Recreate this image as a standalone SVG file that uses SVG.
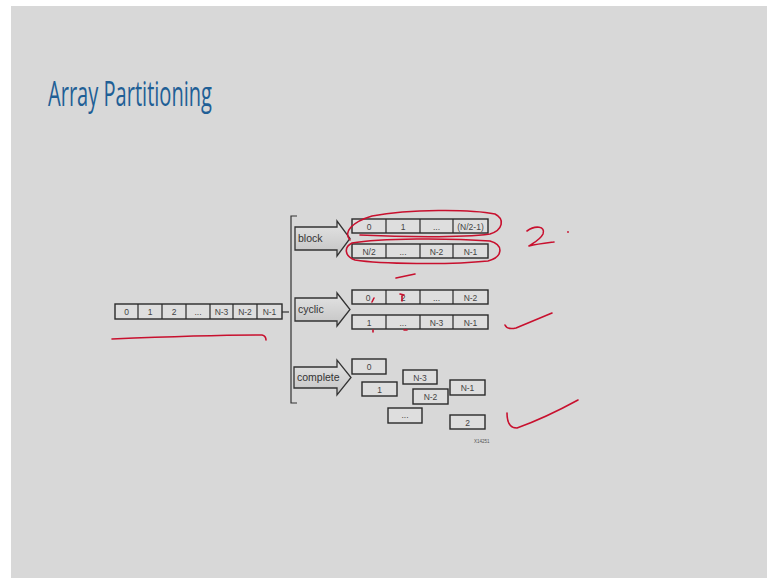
<svg xmlns="http://www.w3.org/2000/svg" width="767" height="578" viewBox="0 0 767 578">
<defs>
<linearGradient id="ag" x1="0" y1="0" x2="0" y2="1">
<stop offset="0" stop-color="#e4e4e4"/>
<stop offset="1" stop-color="#c4c4c4"/>
</linearGradient>
<style>
.cell{fill:#dedede;stroke:#2a2a2a;stroke-width:1.4}
.sep{stroke:#2a2a2a;stroke-width:1.2}
.lbl{font-family:"Liberation Sans",Arial,sans-serif;font-size:8.5px;fill:#444;text-anchor:middle}
.arr{fill:url(#ag);stroke:#333;stroke-width:1.3;stroke-linejoin:miter}
.alb{font-family:"Liberation Sans",Arial,sans-serif;font-size:10.5px;fill:#333}
.red{fill:none;stroke:#c8102e;stroke-width:1.6;stroke-linecap:round;stroke-linejoin:round}
.ln{fill:none;stroke:#333;stroke-width:1.2}
</style>
</defs>
<rect x="0" y="0" width="767" height="578" fill="#ffffff"/>
<rect x="11" y="6" width="756" height="572" fill="#d8d8d8"/>
<text x="48" y="106" font-family="'Open Sans','Liberation Sans',sans-serif" font-size="35" fill="#1f5f96" textLength="164" lengthAdjust="spacingAndGlyphs">Array Partitioning</text>

<g id="source-array">
<rect class="cell" x="115" y="304" width="167" height="15"/>
<path class="sep" d="M138,304V319M162,304V319M186,304V319M210,304V319M233,304V319M257,304V319"/>
<text class="lbl" x="126.5" y="315">0</text>
<text class="lbl" x="150" y="315">1</text>
<text class="lbl" x="174" y="315">2</text>
<text class="lbl" x="198" y="315">...</text>
<text class="lbl" x="221.5" y="315">N-3</text>
<text class="lbl" x="245" y="315">N-2</text>
<text class="lbl" x="269.5" y="315">N-1</text>
</g>

<g id="connectors">
<path class="ln" d="M282,312H289"/>
<path class="ln" d="M297,216H291V403H297"/>
</g>

<g id="block">
<path class="arr" d="M295,227H337V221L350,238.5L337,256V250H295Z"/>
<text class="alb" x="298" y="242">block</text>
<rect class="cell" x="352" y="219" width="136" height="14"/>
<path class="sep" d="M386,219V233M420,219V233M453,219V233"/>
<text class="lbl" x="369" y="229.5">0</text>
<text class="lbl" x="403" y="229.5">1</text>
<text class="lbl" x="436.5" y="229.5">...</text>
<text class="lbl" x="470.5" y="229.5">(N/2-1)</text>
<rect class="cell" x="352" y="244" width="136" height="14"/>
<path class="sep" d="M386,244V258M420,244V258M453,244V258"/>
<text class="lbl" x="369" y="254.5">N/2</text>
<text class="lbl" x="403" y="254.5">...</text>
<text class="lbl" x="436.5" y="254.5">N-2</text>
<text class="lbl" x="470.5" y="254.5">N-1</text>
</g>

<g id="cyclic">
<path class="arr" d="M295,298H337V293L350,309.5L337,326V321H295Z"/>
<text class="alb" x="298" y="313">cyclic</text>
<rect class="cell" x="352" y="290" width="136" height="14"/>
<path class="sep" d="M386,290V304M420,290V304M453,290V304"/>
<text class="lbl" x="368" y="300.5">0</text>
<text class="lbl" x="403" y="300.5">2</text>
<text class="lbl" x="436.5" y="300.5">...</text>
<text class="lbl" x="470.5" y="300.5">N-2</text>
<rect class="cell" x="352" y="315" width="136" height="14"/>
<path class="sep" d="M386,315V329M420,315V329M453,315V329"/>
<text class="lbl" x="369" y="325.5">1</text>
<text class="lbl" x="403" y="325.5">...</text>
<text class="lbl" x="436.5" y="325.5">N-3</text>
<text class="lbl" x="470.5" y="325.5">N-1</text>
</g>

<g id="complete">
<path class="arr" d="M294,367H337V360L351,377.5L337,395V388H294Z"/>
<text class="alb" x="297" y="381">complete</text>
<rect class="cell" x="352" y="359" width="34" height="15"/>
<text class="lbl" x="369" y="370">0</text>
<rect class="cell" x="362" y="382" width="35" height="14"/>
<text class="lbl" x="379.5" y="392.5">1</text>
<rect class="cell" x="403" y="370" width="34" height="14"/>
<text class="lbl" x="420" y="380.5">N-3</text>
<rect class="cell" x="413" y="389" width="35" height="15"/>
<text class="lbl" x="430.5" y="400">N-2</text>
<rect class="cell" x="450" y="380" width="35" height="15"/>
<text class="lbl" x="467.5" y="391">N-1</text>
<rect class="cell" x="388" y="408" width="34" height="15"/>
<text class="lbl" x="405" y="418">...</text>
<rect class="cell" x="450" y="415" width="35" height="14"/>
<text class="lbl" x="467.5" y="425.5">2</text>
<text x="474" y="443" font-family="'Liberation Sans',Arial,sans-serif" font-size="4.5" fill="#555">X14251</text>
</g>

<g id="annotations">
<path class="red" d="M112,339C160,337 210,335 262,335Q266,336 266,340"/>
<path class="red" d="M350,240C343,232 352,222 372,216C410,209 470,209 495,214C505,219 503,230 490,234C460,238 400,237 360,235"/>
<path class="red" d="M352,243C380,238 450,238 490,241C504,245 503,257 488,261C450,265 380,264 355,260C344,256 344,247 352,243"/>
<path class="red" d="M396,278L415,274"/>
<path class="red" d="M527,231C535,225 546,226 543,234C540,240 533,243 529,246C537,244 546,243 554,242"/>
<circle cx="568" cy="232" r="0.9" fill="#c8102e"/>
<path class="red" d="M505,325Q507,330 516,328L552,313"/>
<path class="red" d="M507,413Q507,428 517,428Q545,418 578,400"/>
<path class="red" stroke-width="1" d="M374,298L372,302"/>
<path class="red" stroke-width="1" d="M400,294L404,295M402,296V301"/>
<path class="red" stroke-width="1" d="M373,330V332M404,330L407,330"/>
</g>
</svg>
